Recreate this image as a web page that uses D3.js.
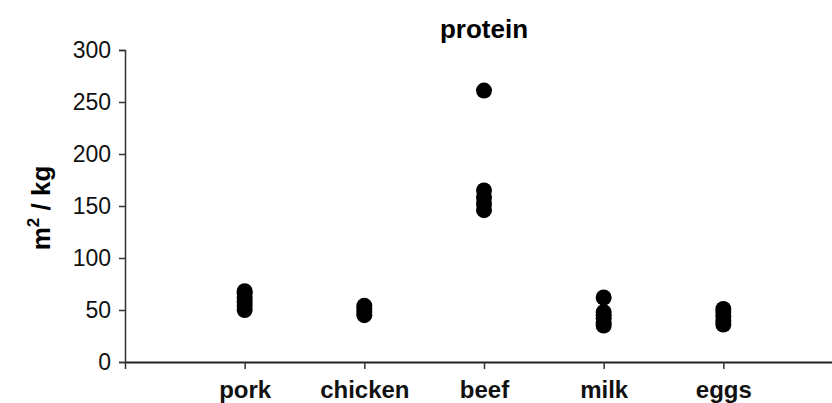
<!DOCTYPE html>
<html><head><meta charset="utf-8">
<script src="https://cdn.jsdelivr.net/npm/d3@7"></script>
<style>body{margin:0;background:#fff}svg{display:block}text{font-family:"Liberation Sans",Arial,sans-serif}</style>
</head><body><svg id="c" width="832" height="403"></svg>
<script>
const categories = ["pork","chicken","beef","milk","eggs"];
const pork = [50, 54, 58, 62, 66, 68];
const chicken = [45, 48, 51, 54];
const beef = [146, 152, 158, 165, 261];
const milk = [35, 38, 42, 45, 48, 62];
const eggs = [36, 40, 44, 48, 51];
const yTicks = [0, 50, 100, 150, 200, 250, 300];
const seriesValues = [pork, chicken, beef, milk, eggs];
const title = "protein";

const svg = d3.select("#c");
const x0 = 125, x1 = 843, yTop = 50, yBot = 362;
const x = d3.scaleLinear().domain([0, categories.length + 1]).range([x0, x1]);
const y = d3.scaleLinear().domain([0, 300]).range([yBot, yTop]);

// y axis
const ya = svg.append("g").attr("transform", `translate(${x0},0)`)
  .call(d3.axisLeft(y).tickValues(yTicks).tickSize(6).tickPadding(8));
ya.select(".domain").attr("stroke", "#333").attr("stroke-width", 1.5);
ya.selectAll(".tick line").attr("stroke", "#333").attr("stroke-width", 1.5);
ya.selectAll(".tick text").attr("font-size", 23).attr("fill", "#111")
  .style("font-family", "'Liberation Sans',Arial,sans-serif");

// x axis
const xa = svg.append("g").attr("transform", `translate(0,${yBot})`)
  .call(d3.axisBottom(x).tickValues(d3.range(0, categories.length + 1))
    .tickSize(7).tickSizeOuter(0).tickFormat(d => d === 0 ? "" : categories[d - 1]).tickPadding(12));
xa.select(".domain").attr("stroke", "#222").attr("stroke-width", 2);
xa.selectAll(".tick line").attr("stroke", "#333").attr("stroke-width", 1.5);
xa.selectAll(".tick text").attr("font-size", 24).attr("font-weight", "bold").attr("fill", "#111")
  .style("font-family", "'Liberation Sans',Arial,sans-serif");

// points
seriesValues.forEach((vals, i) => {
  svg.append("g").selectAll("circle").data(vals).join("circle")
    .attr("cx", x(i + 1)).attr("cy", d => y(d)).attr("r", 8).attr("fill", "#000");
});

// title
svg.append("text").attr("x", 484).attr("y", 38).attr("text-anchor", "middle")
  .attr("font-size", 26).attr("font-weight", "bold").text(title);

// y label
const yl = svg.append("text").attr("transform", `translate(50,208) rotate(-90)`)
  .attr("text-anchor", "middle").attr("font-size", 26).attr("font-weight", "bold");
yl.append("tspan").text("m");
yl.append("tspan").attr("dy", -11).attr("font-size", 17).text("2");
yl.append("tspan").attr("dy", 11).text(" / kg");
</script></body></html>
